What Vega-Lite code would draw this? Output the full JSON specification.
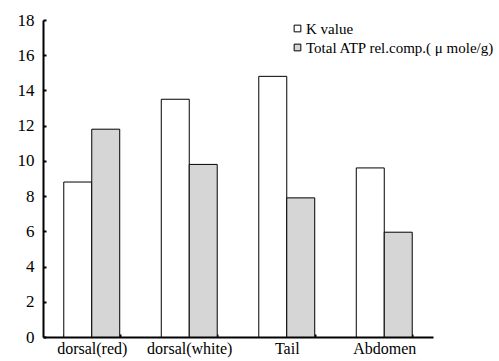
{
  "$schema": "https://vega.github.io/schema/vega-lite/v6.json",
  "width": 390,
  "height": 317,
  "autosize": "none",
  "padding": {"left": 43, "top": 20, "right": 66, "bottom": 24},
  "background": "white",
  "config": {
    "view": {"stroke": null},
    "font": "Liberation Serif",
    "axis": {"labelFont": "Liberation Serif", "labelColor": "black", "domainColor": "black", "tickColor": "black", "grid": false}
  },
  "data": {
    "values": [
      {"part": "dorsal(red)", "series": "K value", "value": 8.8},
      {"part": "dorsal(red)", "series": "Total ATP rel.comp.( μ mole/g)", "value": 11.8},
      {"part": "dorsal(white)", "series": "K value", "value": 13.5},
      {"part": "dorsal(white)", "series": "Total ATP rel.comp.( μ mole/g)", "value": 9.8},
      {"part": "Tail", "series": "K value", "value": 14.8},
      {"part": "Tail", "series": "Total ATP rel.comp.( μ mole/g)", "value": 7.9},
      {"part": "Abdomen", "series": "K value", "value": 9.6},
      {"part": "Abdomen", "series": "Total ATP rel.comp.( μ mole/g)", "value": 5.95}
    ]
  },
  "mark": {"type": "bar", "stroke": "black", "strokeWidth": 1},
  "encoding": {
    "x": {
      "field": "part", "type": "nominal", "sort": null, "title": null,
      "scale": {"paddingInner": 0.426, "paddingOuter": 0.213},
      "axis": {"labelAngle": 0, "labelFontSize": 16, "domainWidth": 2, "tickBand": "extent", "tickSize": -3, "tickWidth": 2, "labelPadding": 6}
    },
    "xOffset": {"field": "series", "type": "nominal", "sort": ["K value", "Total ATP rel.comp.( μ mole/g)"], "scale": {"paddingInner": 0, "paddingOuter": 0}},
    "y": {
      "field": "value", "type": "quantitative", "title": null,
      "scale": {"domain": [0, 18], "nice": false},
      "axis": {"values": [0, 2, 4, 6, 8, 10, 12, 14, 16, 18], "labelFontSize": 17, "domainWidth": 2, "tickSize": -3, "tickWidth": 2, "labelPadding": 12}
    },
    "fill": {
      "field": "series", "type": "nominal",
      "scale": {"domain": ["K value", "Total ATP rel.comp.( μ mole/g)"], "range": ["white", "#d6d6d6"]},
      "legend": {
        "title": null, "orient": "none", "legendX": 247, "legendY": 1,
        "symbolType": "square", "symbolSize": 45, "symbolStrokeColor": "black", "symbolStrokeWidth": 1,
        "labelFontSize": 15, "labelFont": "Liberation Serif", "labelColor": "black", "labelLimit": 300, "rowPadding": 3, "labelOffset": 1,
        "labelExpr": "datum.label"
      }
    }
  }
}
